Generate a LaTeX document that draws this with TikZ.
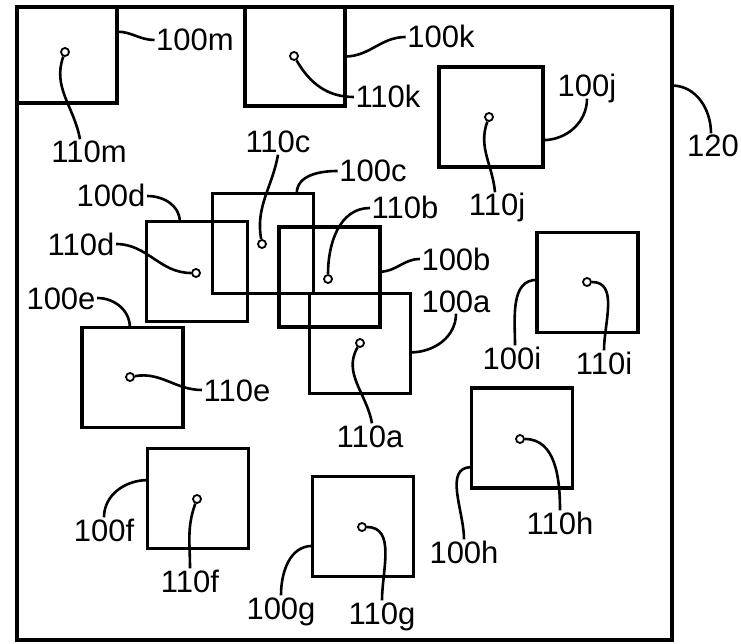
\documentclass[tikz,border=0pt]{standalone}
\usepackage{fontspec}
\setmainfont{Liberation Sans}

\begin{document}
\begin{tikzpicture}[x=1pt, y=-1pt,
	cell/.style={draw, line width=3.2pt, minimum width=101pt, minimum height=100pt, inner sep=0pt, outer sep=0pt},
	dot/.style={draw, circle, line width=1.8pt, minimum size=8pt, inner sep=0pt},
	lbl/.style={font=\fontsize{31}{31}\selectfont, inner sep=1.5pt, text height=22pt, text depth=0pt},
	lead/.style={line width=2.6pt}]
		\useasboundingbox (0,0) rectangle (741,644);
		\node[cell, minimum width=655pt, minimum height=633pt] (frame) at (344.5,323.5) {};
		\node[cell, minimum width=100pt, minimum height=96pt] (bm) at (67,55) {};
		\node[cell, minimum width=100pt, minimum height=99pt] (bk) at (295,56.5) {};
		\node[cell, minimum width=104pt] (bj) at (491,117) {};
		\node[cell] (bc) at (263,243.5) {};
		\node[cell] (bb) at (329.5,277) {};
		\node[cell] (ba) at (360,343.5) {};
		\node[cell] (bd) at (197,271.5) {};
		\node[cell] (be) at (132.5,377.5) {};
		\node[cell] (bi) at (587.5,282.5) {};
		\node[cell] (bh) at (522,438) {};
		\node[cell] (bf) at (198,498.5) {};
		\node[cell] (bg) at (363,526.5) {};
		\node[dot] (p110m) at (65,52) {};
		\node[dot] (p110k) at (294,56) {};
		\node[dot] (p110j) at (489,117) {};
		\node[dot] (p110c) at (262,244) {};
		\node[dot] (p110b) at (328,279) {};
		\node[dot] (p110a) at (360,343) {};
		\node[dot] (p110d) at (196,273) {};
		\node[dot] (p110e) at (130,377) {};
		\node[dot] (p110i) at (587,282) {};
		\node[dot] (p110h) at (520,439) {};
		\node[dot] (p110f) at (197,499) {};
		\node[dot] (p110g) at (362,527) {};
		\node[lbl] (l100m) at (195,40) {100m};
		\node[lbl] (l110m) at (89,152) {110m};
		\node[lbl] (l100k) at (441,37) {100k};
		\node[lbl] (l110k) at (388,97) {110k};
		\node[lbl] (l100j) at (587,86) {100j};
		\node[lbl] (l110j) at (497,205) {110j};
		\node[lbl] (l120) at (713,146) {120};
		\node[lbl] (l110c) at (278,142) {110c};
		\node[lbl] (l100c) at (373,171) {100c};
		\node[lbl] (l110b) at (405,208) {110b};
		\node[lbl] (l100b) at (456,259) {100b};
		\node[lbl] (l100a) at (456,301) {100a};
		\node[lbl] (l110a) at (370,436) {110a};
		\node[lbl] (l100d) at (111,196) {100d};
		\node[lbl] (l110d) at (81,244) {110d};
		\node[lbl] (l100e) at (61,298) {100e};
		\node[lbl] (l110e) at (237,390) {110e};
		\node[lbl] (l100i) at (512,358) {100i};
		\node[lbl] (l110i) at (604,363) {110i};
		\node[lbl] (l100h) at (464,552) {100h};
		\node[lbl] (l110h) at (560,523) {110h};
		\node[lbl] (l100f) at (104,530) {100f};
		\node[lbl] (l110f) at (190,581) {110f};
		\node[lbl] (l100g) at (281,608) {100g};
		\node[lbl] (l110g) at (382,613) {110g};
		\draw[lead] (bm.25) to[out=0,in=180] (l100m.west);
		\draw[lead] (p110m) to[out=-110,in=100] ([xshift=-9pt]l110m.north);
		\draw[lead] (bk.east) to[out=0,in=180] (l100k.west);
		\draw[lead] (p110k) to[out=-60,in=180] (l110k.west);
		\draw[lead] (bj.-24) to[out=0,in=-90] (l100j.south);
		\draw[lead] (p110j) to[out=-110,in=95] ([xshift=-2pt]l110j.north);
		\draw[lead] (frame.36) to[out=0,in=90] ([xshift=-2pt]l120.north);
		\draw[lead] (p110c) to[out=100,in=-100] (l110c.south);
		\draw[lead] (bc.56) to[out=90,in=180] (l100c.west);
		\draw[lead] (p110b) to[out=90,in=180] (l110b.west);
		\draw[lead] (bb.6) to[out=0,in=180] (l100b.west);
		\draw[lead] (ba.-10) to[out=0,in=-90] (l100a.south);
		\draw[lead] (p110a) to[out=-120,in=100] ([xshift=2pt]l110a.north);
		\draw[lead] (l100d.east) to[out=0,in=90] (bd.109);
		\draw[lead] (l110d.east) to[out=0,in=180] (p110d);
		\draw[lead] (l100e.east) to[out=0,in=90] (be.93);
		\draw[lead] (p110e) to[out=10,in=180] (l110e.west);
		\draw[lead] (bi.177) to[out=180,in=90] ([xshift=3pt]l100i.north);
		\draw[lead] (p110i) to[out=0,in=90] (l110i.north);
		\draw[lead] (bh.-150) to[out=180,in=90] (l100h.north);
		\draw[lead] (p110h) to[out=0,in=90] (l110h.north);
		\draw[lead] (bf.160) to[out=180,in=90] (l100f.north);
		\draw[lead] (p110f) to[out=-110,in=90] (l110f.north);
		\draw[lead] (bg.-159) to[out=180,in=90] (l100g.north);
		\draw[lead] (p110g) to[out=0,in=90] (l110g.north);
	\end{tikzpicture}
\end{document}
